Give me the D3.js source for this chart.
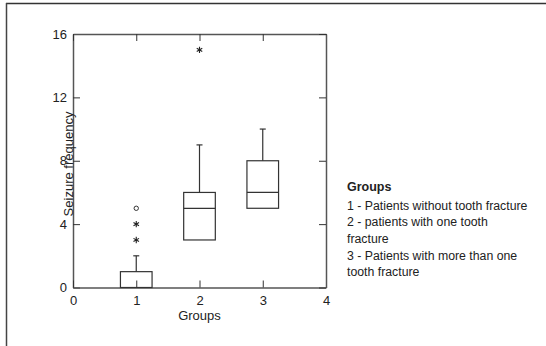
<!DOCTYPE html>
<html>
<head>
<meta charset="utf-8">
<script src="https://cdn.jsdelivr.net/npm/d3@7"></script>
<style>
  body { margin: 0; background: #fff; }
  text { font-family: "Liberation Sans", Arial, sans-serif; }
</style>
</head>
<body>
<div id="chart"></div>
<script>
var width = 546, height = 346;

// DATA
var groups = [1, 2, 3];
var q1 = [0, 3, 5];
var median = [0, 5, 6];
var q3 = [1, 6, 8];
var whiskerHigh = [2, 9, 10];
var outlierGroup = [1, 1, 1, 2];
var outlierValue = [5, 4, 3, 15];
var outlierType = ["circle", "star", "star", "star"];
var xTicks = [0, 1, 2, 3, 4];
var yTicks = [0, 4, 8, 12, 16];
var legendLines = ["1 - Patients without tooth fracture", "2 - patients with one tooth", "fracture", "3 - Patients with more than one", "tooth fracture"];

var svg = d3.select("#chart").append("svg")
            .attr("width", width)
            .attr("height", height);

// outer frame (top and left only)
svg.append("line").attr("x1", 6).attr("y1", 3.5).attr("x2", width).attr("y2", 3.5).style("stroke", "#333").style("stroke-width", 1.5);
svg.append("line").attr("x1", 6.5).attr("y1", 3).attr("x2", 6.5).attr("y2", height).style("stroke", "#444").style("stroke-width", 1.5);

var x = d3.scaleLinear().domain([0, 4]).range([73, 326]);
var y = d3.scaleLinear().domain([0, 16]).range([287.5, 34]);

// AXES
var axisColor = "#555";
var fmt = d3.format("d");
var gLeft = svg.append("g").attr("transform", "translate(" + x(0) + ",0)")
  .call(d3.axisLeft(y).tickValues(yTicks).tickFormat(fmt).tickSize(-7).tickSizeOuter(0).tickPadding(6));
var gBottom = svg.append("g").attr("transform", "translate(0," + y(0) + ")")
  .call(d3.axisBottom(x).tickValues(xTicks).tickFormat(fmt).tickSize(-7).tickSizeOuter(0).tickPadding(8));
var gTop = svg.append("g").attr("transform", "translate(0," + y(16) + ")")
  .call(d3.axisTop(x).tickValues(xTicks).tickSize(-7).tickSizeOuter(0).tickFormat(""));
var gRight = svg.append("g").attr("transform", "translate(" + x(4) + ",0)")
  .call(d3.axisRight(y).tickValues(yTicks).tickSize(-7).tickSizeOuter(0).tickFormat(""));

[gLeft, gBottom, gTop, gRight].forEach(function(g) {
  g.selectAll("path.domain").style("stroke", axisColor).style("stroke-width", 1.5);
  g.selectAll(".tick line").style("stroke", "#333").style("stroke-width", 1);
  g.selectAll(".tick text").style("fill", "#222").style("font-size", "13px").style("font-family", "Liberation Sans, Arial, sans-serif");
});

// BOXES
var halfW = 0.25, capW = 3;
groups.forEach(function(g, i) {
  var box = svg.append("g").style("stroke", "#333").style("fill", "none").style("stroke-width", 1.2);
  box.append("line").attr("x1", x(g)).attr("x2", x(g)).attr("y1", y(q3[i])).attr("y2", y(whiskerHigh[i]));
  box.append("line").attr("x1", x(g) - capW).attr("x2", x(g) + capW).attr("y1", y(whiskerHigh[i])).attr("y2", y(whiskerHigh[i]));
  box.append("rect").attr("x", x(g - halfW)).attr("width", x(g + halfW) - x(g - halfW))
     .attr("y", y(q3[i])).attr("height", y(q1[i]) - y(q3[i]));
  box.append("line").attr("x1", x(g - halfW)).attr("x2", x(g + halfW)).attr("y1", y(median[i])).attr("y2", y(median[i]));
});

// OUTLIERS
outlierValue.forEach(function(v, i) {
  var cx = x(outlierGroup[i]), cy = y(v);
  if (outlierType[i] === "circle") {
    svg.append("circle").attr("cx", cx).attr("cy", cy).attr("r", 2.2)
       .style("fill", "none").style("stroke", "#333").style("stroke-width", 1);
  } else {
    svg.append("path").attr("transform", "translate(" + cx + "," + cy + ")")
       .attr("d", d3.symbol(d3.symbolAsterisk, 28)())
       .style("fill", "none").style("stroke", "#222").style("stroke-width", 1.1);
  }
});

// AXIS TITLES
svg.append("text").attr("x", x(2)).attr("y", 320).style("text-anchor", "middle")
   .style("font-size", "13px").style("fill", "#222").text("Groups");
svg.append("text").attr("transform", "translate(73," + 164 + ") rotate(-90)")
   .style("text-anchor", "middle").style("font-size", "13px").style("fill", "#222").text("Seizure frequency");

// LEGEND
svg.append("text").attr("x", 347).attr("y", 191).style("font-size", "12.5px").style("font-weight", "bold")
   .style("fill", "#222").text("Groups");
svg.selectAll("text.legend").data(legendLines).enter().append("text")
   .attr("class", "legend")
   .attr("x", 347)
   .attr("y", function(d, i) { return 209.5 + i * 16.7; })
   .style("font-size", "12.3px").style("fill", "#222")
   .text(function(d) { return d; });
</script>
</body>
</html>
